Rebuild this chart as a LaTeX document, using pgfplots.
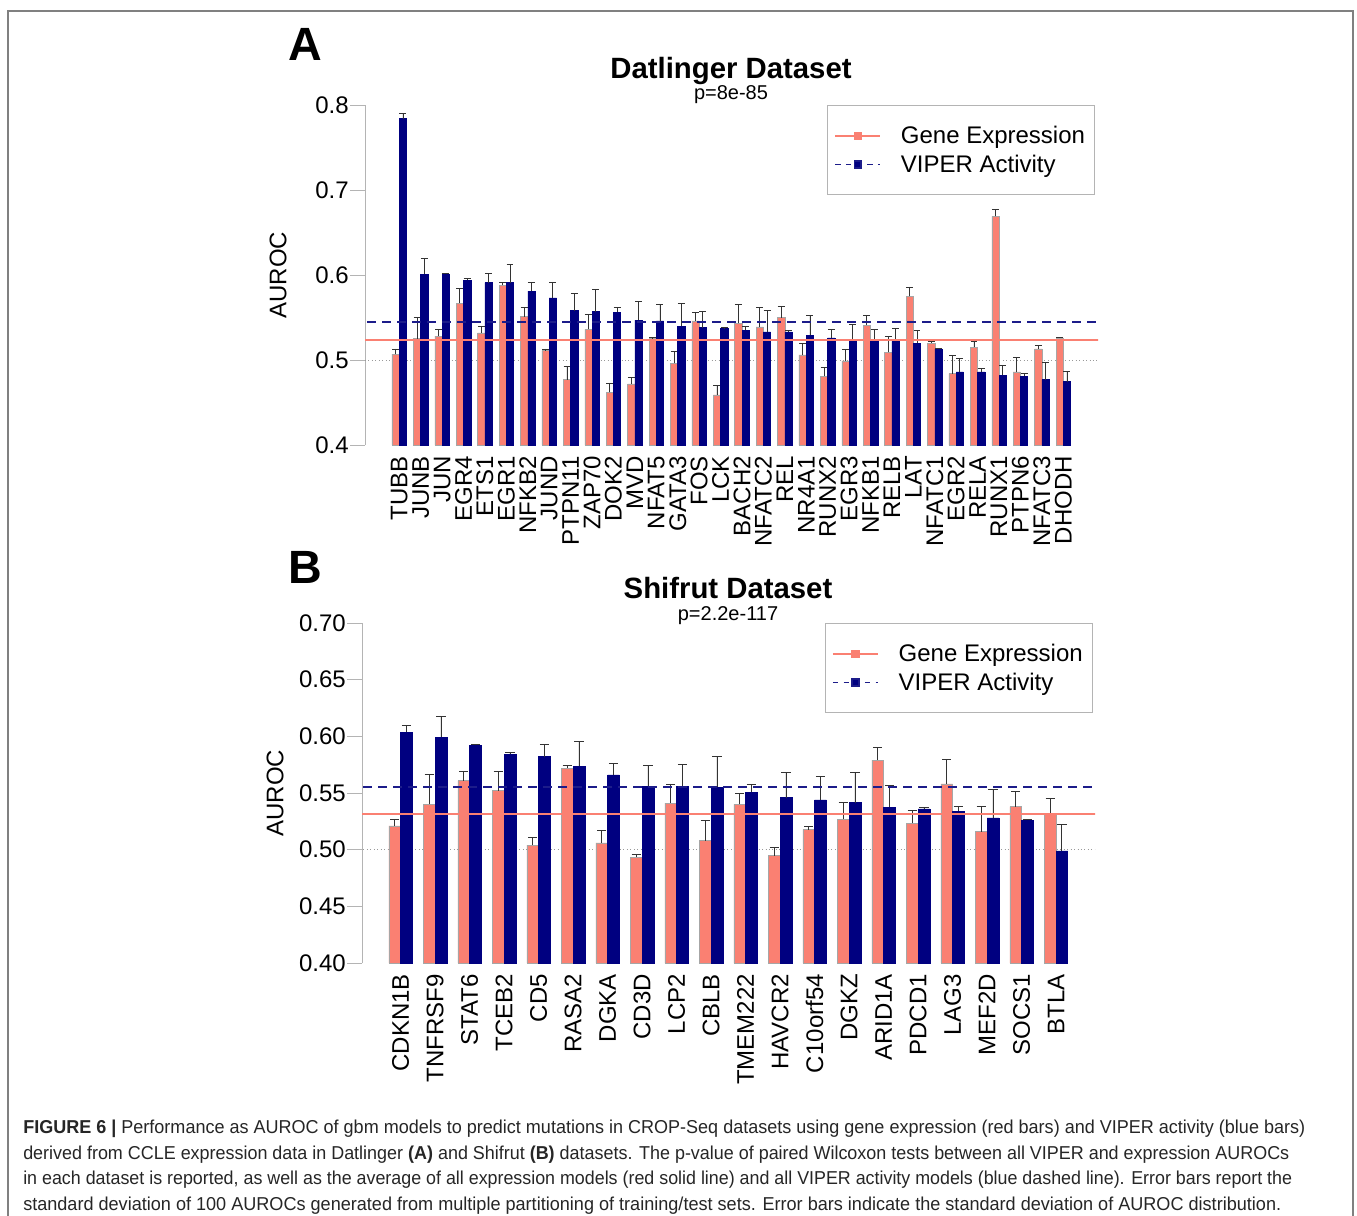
\documentclass[border=0pt]{standalone}
\usepackage{pgfplots}
\pgfplotsset{compat=1.18}
\usepackage{pgfplotstable}
\usepackage{fontspec}
\setmainfont{Liberation Sans}
\usepackage{graphicx}
\definecolor{salmon}{HTML}{FA8072}
\definecolor{navyb}{HTML}{000080}
\definecolor{navyline}{HTML}{1C1C8A}
\definecolor{axgray}{HTML}{B4B4B4}

\pgfplotstableread{
x r re b be
0 0.507 0.006 0.784 0.006
1 0.525 0.025 0.601 0.019
2 0.528 0.008 0.601 0.001
3 0.567 0.017 0.594 0.002
4 0.532 0.007 0.591 0.011
5 0.588 0.003 0.591 0.021
6 0.551 0.011 0.581 0.010
7 0.511 0.002 0.573 0.018
8 0.477 0.016 0.558 0.020
9 0.536 0.018 0.557 0.026
10 0.462 0.011 0.556 0.006
11 0.472 0.008 0.547 0.022
12 0.525 0.002 0.546 0.020
13 0.496 0.014 0.540 0.027
14 0.546 0.010 0.538 0.019
15 0.459 0.011 0.537 0.001
16 0.543 0.022 0.535 0.004
17 0.539 0.023 0.533 0.025
18 0.550 0.013 0.533 0.002
19 0.506 0.014 0.529 0.023
20 0.481 0.010 0.526 0.010
21 0.499 0.013 0.524 0.018
22 0.541 0.011 0.522 0.014
23 0.509 0.019 0.522 0.015
24 0.575 0.011 0.520 0.015
25 0.520 0.002 0.513 0.001
26 0.484 0.021 0.486 0.016
27 0.515 0.007 0.486 0.004
28 0.669 0.008 0.482 0.012
29 0.486 0.017 0.481 0.003
30 0.513 0.004 0.477 0.020
31 0.526 0.001 0.4745 0.012
}\datA

\pgfplotstableread{
x r re b be
0 0.521 0.006 0.6035 0.006
1 0.540 0.026 0.599 0.019
2 0.561 0.008 0.592 0.001
3 0.552 0.017 0.584 0.002
4 0.504 0.007 0.582 0.011
5 0.572 0.002 0.5735 0.022
6 0.506 0.011 0.566 0.010
7 0.4935 0.002 0.5556 0.019
8 0.541 0.017 0.5556 0.020
9 0.508 0.018 0.555 0.027
10 0.540 0.010 0.5505 0.007
11 0.4947 0.007 0.546 0.022
12 0.5176 0.003 0.544 0.021
13 0.527 0.015 0.5415 0.027
14 0.579 0.011 0.5376 0.019
15 0.5235 0.011 0.536 0.0015
16 0.558 0.022 0.534 0.004
17 0.516 0.022 0.528 0.025
18 0.538 0.013 0.526 0.001
19 0.531 0.0145 0.499 0.0235
}\datB

\pgfplotsset{
  myaxis/.style={
    scale only axis, width=549.75pt, height=255pt,
    axis lines*=left,
    x axis line style={draw=none},
    y axis line style={axgray, line width=0.75pt},
    tick align=outside, major tick length=11.25pt,
    xtick style={draw=none},
    ytick style={axgray, line width=0.75pt},
    tick label style={font=\fontsize{18}{21}\selectfont},
    /pgf/number format/assume math mode=true,
    xticklabel style={yshift=3pt, rotate=90, anchor=east, inner sep=0pt},
    yticklabel style={anchor=east, inner sep=0pt, xshift=-0.75pt},
    legend cell align=left,
    legend image code/.code={\draw[mark repeat=2,mark phase=2,##1] plot coordinates {(0pt,0pt) (16.875pt,0pt) (33.75pt,0pt)};},
    legend style={anchor=north west, draw=axgray, line width=0.75pt, fill=white,
      font=\fontsize{18}{21.75}\selectfont, inner xsep=5pt, inner ysep=13.5pt,
      row sep=3pt, /tikz/every odd column/.append style={column sep=13pt}},
  },
  redbar/.style={ybar, bar width=0.34, bar shift=0, fill=salmon, draw=gray!70, line width=0.4pt, forget plot,
    error bars/.cd, y dir=plus, y explicit,
    error bar style={black!80, line width=0.6pt},
    error mark options={rotate=90, black!80, line width=0.6pt, mark size=#1}},
  bluebar/.style={ybar, bar width=0.34, bar shift=0, fill=navyb, draw=navyb, line width=0.4pt, forget plot,
    error bars/.cd, y dir=plus, y explicit,
    error bar style={black!80, line width=0.6pt},
    error mark options={rotate=90, black!80, line width=0.6pt, mark size=#1}},
}

\begin{document}
\begin{tikzpicture}
\path[use as bounding box] (0pt,0pt) rectangle (1017.75pt,-911.25pt);
\fill[white] (0pt,0pt) rectangle (1017.75pt,-911.25pt);
\draw[gray, line width=1.1pt] (6pt,-912pt) |- (1014.75pt,-8.25pt) -- (1014.75pt,-912pt);

% Panel A
\begin{axis}[myaxis, at={(273.75pt,-333.75pt)}, anchor=south west,
  xmin=-1.6, xmax=32.62, ymin=0.4, ymax=0.8,
  ytick={0.4,0.5,0.6,0.7,0.8},
  yticklabel style={/pgf/number format/.cd, fixed, precision=1, fixed zerofill},
  xtick={0,...,31},
  xticklabels={TUBB,JUNB,JUN,EGR4,ETS1,EGR1,NFKB2,JUND,PTPN11,ZAP70,DOK2,MVD,NFAT5,GATA3,FOS,LCK,BACH2,NFATC2,REL,NR4A1,RUNX2,EGR3,NFKB1,RELB,LAT,NFATC1,EGR2,RELA,RUNX1,PTPN6,NFATC3,DHODH},
  legend style={at={(0.6307,1)}},
]
\addplot[gray!80, dotted, line width=0.6pt, forget plot] coordinates {(-5,0.5) (40,0.5)};
\addplot[redbar=2.6pt] table[x expr=\thisrow{x}-0.17, y=r, y error=re] {\datA};
\addplot[bluebar=2.6pt] table[x expr=\thisrow{x}+0.17, y=b, y error=be] {\datA};
\addplot[draw=salmon, line width=1.2pt, forget plot] coordinates {(-5,0.5235) (40,0.5235)};
\addplot[draw=navyline, line width=1.3pt, dash pattern=on 6.75pt off 4.5pt, forget plot] coordinates {(-5,0.545) (40,0.545)};
\addlegendimage{draw=salmon, line width=1.1pt, mark=square*, mark size=2.6pt, mark options={fill=salmon}}
\addlegendentry{Gene Expression}
\addlegendimage{draw=navyline, line width=1.1pt, dash pattern=on 4pt off 4pt, mark=square*, mark size=2.6pt, mark options={solid, fill=navyb}}
\addlegendentry{VIPER Activity}
\end{axis}

% Panel B
\begin{axis}[myaxis, at={(271.5pt,-722.25pt)}, anchor=south west,
  xmin=-1.12, xmax=20.13, ymin=0.4, ymax=0.7,
  ytick={0.40,0.45,0.50,0.55,0.60,0.65,0.70},
  yticklabel style={/pgf/number format/.cd, fixed, precision=2, fixed zerofill},
  xtick={0,...,19},
  xticklabels={CDKN1B,TNFRSF9,STAT6,TCEB2,CD5,RASA2,DGKA,CD3D,LCP2,CBLB,TMEM222,HAVCR2,C10orf54,DGKZ,ARID1A,PDCD1,LAG3,MEF2D,SOCS1,BTLA},
  legend style={at={(0.6317,1)}},
]
\addplot[gray!80, dotted, line width=0.6pt, forget plot] coordinates {(-5,0.5) (40,0.5)};
\addplot[redbar=3.5pt] table[x expr=\thisrow{x}-0.17, y=r, y error=re] {\datB};
\addplot[bluebar=3.5pt] table[x expr=\thisrow{x}+0.17, y=b, y error=be] {\datB};
\addplot[draw=salmon, line width=1.2pt, forget plot] coordinates {(-5,0.5316) (40,0.5316)};
\addplot[draw=navyline, line width=1.3pt, dash pattern=on 6.75pt off 4.5pt, forget plot] coordinates {(-5,0.5556) (40,0.5556)};
\addlegendimage{draw=salmon, line width=1.1pt, mark=square*, mark size=2.6pt, mark options={fill=salmon}}
\addlegendentry{Gene Expression}
\addlegendimage{draw=navyline, line width=1.1pt, dash pattern=on 4pt off 4pt, mark=square*, mark size=2.6pt, mark options={solid, fill=navyb}}
\addlegendentry{VIPER Activity}
\end{axis}

% Titles and labels
\node[anchor=base, font=\bfseries\fontsize{35}{40}\selectfont] at (228.75pt,-45pt) {A};
\node[anchor=base, font=\bfseries\fontsize{35}{40}\selectfont] at (228.75pt,-437.25pt) {B};
\node[anchor=base, font=\bfseries\fontsize{22}{26}\selectfont] at (548.25pt,-58.5pt) {Datlinger Dataset};
\node[anchor=base, font=\fontsize{15}{18}\selectfont] at (548.25pt,-74.25pt) {p=8e-85};
\node[anchor=base, inner sep=0pt, font=\bfseries\fontsize{22}{26}\selectfont] at (546pt,-448.5pt) {Shifrut Dataset};
\node[anchor=base, inner sep=0pt, font=\fontsize{15}{18}\selectfont] at (546pt,-465pt) {p=2.2e-117};
\node[rotate=90, font=\fontsize{18}{21}\selectfont] at (208.5pt,-206.25pt) {AUROC};
\node[rotate=90, font=\fontsize{18}{21}\selectfont] at (206.25pt,-594.75pt) {AUROC};

% Caption
\begin{scope}[every node/.style={anchor=base west, inner sep=0pt, font=\fontsize{14}{17}\selectfont, text=black!85}]
\node at (17.25pt,-849.75pt) {\resizebox{961.5pt}{\height}{\textbf{FIGURE 6 |} Performance as AUROC of gbm models to predict mutations in CROP-Seq datasets using gene expression (red bars) and VIPER activity (blue bars)}};
\node at (17.25pt,-869.25pt) {\resizebox{949.5pt}{\height}{derived from CCLE expression data in Datlinger \textbf{(A)} and Shifrut \textbf{(B)} datasets. The p-value of paired Wilcoxon tests between all VIPER and expression AUROCs}};
\node at (17.25pt,-888pt) {\resizebox{951.75pt}{\height}{in each dataset is reported, as well as the average of all expression models (red solid line) and all VIPER activity models (blue dashed line). Error bars report the}};
\node at (17.25pt,-907.5pt) {\resizebox{943.5pt}{\height}{standard deviation of 100 AUROCs generated from multiple partitioning of training/test sets. Error bars indicate the standard deviation of AUROC distribution.}};
\end{scope}
\end{tikzpicture}
\end{document}
